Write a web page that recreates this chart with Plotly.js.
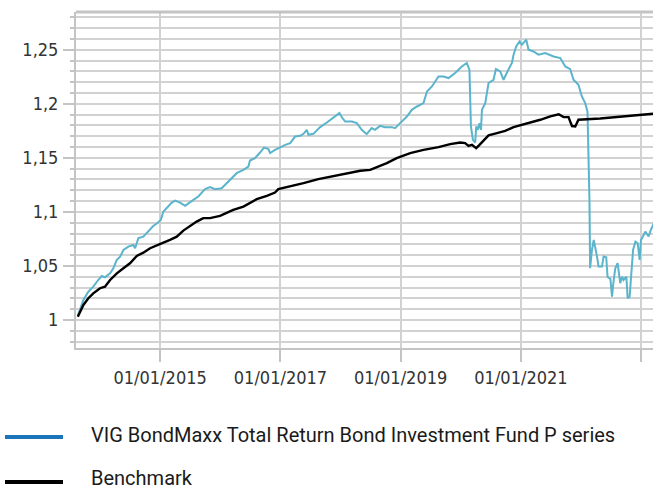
<!DOCTYPE html>
<html>
<head>
<meta charset="utf-8">
<script src="https://cdn.plot.ly/plotly-3.0.1.min.js"></script>
<style>
html,body{margin:0;padding:0;background:#fff;}
#chart{width:653px;height:489px;}
</style>
</head>
<body>
<div id="chart"></div>
<script>
// Fund (VIG BondMaxx Total Return Bond Investment Fund P series)
var fundDates = [
"2013-08-19","2013-09-22","2013-10-22","2013-11-21","2013-12-21","2014-01-11","2014-01-31","2014-03-03",
"2014-03-23","2014-04-13","2014-05-03","2014-05-23","2014-06-22","2014-07-22","2014-08-02","2014-08-22",
"2014-09-21","2014-10-21","2014-11-20","2014-12-14","2015-01-05","2015-01-21","2015-02-20","2015-03-13",
"2015-04-02","2015-05-02","2015-06-02","2015-06-22","2015-07-22","2015-08-21","2015-10-01","2015-10-31",
"2015-12-01","2016-01-10","2016-02-09","2016-03-11","2016-04-10","2016-05-21","2016-06-20","2016-06-30",
"2016-07-30","2016-08-30","2016-09-23","2016-10-20","2016-10-30","2016-11-29","2016-12-31","2017-01-30",
"2017-03-01","2017-03-11","2017-03-31","2017-05-01","2017-05-21","2017-06-10","2017-06-20","2017-07-20",
"2017-08-19","2017-08-30","2017-10-10","2017-10-30","2017-11-29","2017-12-25","2018-01-09","2018-01-29",
"2018-03-11","2018-04-10","2018-05-10","2018-06-09","2018-07-09","2018-07-29","2018-08-29","2018-09-28",
"2018-11-08","2018-11-28","2018-12-29","2019-02-08","2019-03-10","2019-04-10","2019-05-20","2019-06-10",
"2019-07-10","2019-08-19","2019-09-18","2019-10-19","2019-11-28","2020-01-08","2020-02-07","2020-02-23",
"2020-03-03","2020-03-15","2020-03-29","2020-04-04","2020-04-14","2020-04-24","2020-05-03","2020-05-09",
"2020-05-29","2020-06-18","2020-07-18","2020-08-02","2020-08-28","2020-09-17","2020-10-11","2020-11-07",
"2020-11-17","2020-12-03","2020-12-23","2021-01-07","2021-02-02","2021-02-16","2021-03-18","2021-04-17",
"2021-05-28","2021-07-18","2021-08-28","2021-09-27","2021-10-27","2021-11-16","2021-12-16","2022-01-06",
"2022-01-26","2022-02-09","2022-02-21","2022-02-25","2022-03-08","2022-03-19","2022-04-08","2022-04-17",
"2022-05-08","2022-05-18","2022-06-03","2022-06-11","2022-06-28","2022-07-08","2022-07-17","2022-07-28",
"2022-08-11","2022-08-27","2022-09-07","2022-09-16","2022-10-03","2022-10-11","2022-10-23","2022-11-02",
"2022-11-13","2022-11-27","2022-12-11","2022-12-23","2022-12-31","2023-01-12","2023-01-26","2023-02-15",
"2023-02-25","2023-03-20"
];
var fundValues = [
1.004,1.0185,1.0262,1.0308,1.0370,1.0407,1.0395,1.0432,
1.0479,1.0556,1.0586,1.0648,1.0679,1.0694,1.0664,1.0757,
1.0771,1.0818,1.0870,1.0895,1.0925,1.1003,1.1049,1.1086,
1.1105,1.1086,1.1056,1.1081,1.1111,1.1142,1.1210,1.1229,
1.1210,1.1219,1.1266,1.1312,1.1358,1.1389,1.1419,1.1475,
1.1497,1.1549,1.1595,1.1581,1.1544,1.1574,1.1599,1.1620,
1.1636,1.1660,1.1697,1.1704,1.1722,1.1759,1.1713,1.1722,
1.1775,1.1784,1.1827,1.1852,1.1889,1.1914,1.1875,1.1836,
1.1836,1.1821,1.1759,1.1719,1.1775,1.1759,1.1796,1.1784,
1.1784,1.1775,1.1821,1.1882,1.1944,1.1975,1.2006,1.2114,
1.2160,1.2253,1.2253,1.2238,1.2284,1.2345,1.2377,1.2315,
1.1790,1.1667,1.1642,1.1790,1.1759,1.1821,1.1759,1.1944,
1.2006,1.2192,1.2222,1.2321,1.2299,1.2222,1.2299,1.2377,
1.2454,1.2531,1.2577,1.2546,1.2593,1.2500,1.2484,1.2454,
1.2469,1.2438,1.2423,1.2345,1.2321,1.2222,1.2176,1.2068,
1.2006,1.1929,1.1111,1.0479,1.0648,1.0741,1.0586,1.0494,
1.0494,1.0588,1.0581,1.0398,1.0380,1.0216,1.0352,1.0479,
1.0525,1.0340,1.0401,1.0370,1.0401,1.0201,1.0216,1.0432,
1.0648,1.0725,1.0710,1.0556,1.0741,1.0772,1.0818,1.0772,
1.0818,1.0900
];

// Benchmark
var benchDates = [
"2013-08-19","2013-09-22","2013-10-22","2013-11-21","2014-01-01","2014-01-31","2014-03-03","2014-04-13",
"2014-05-23","2014-07-02","2014-08-12","2014-09-21","2014-11-01","2014-12-12","2015-01-21","2015-03-02",
"2015-04-12","2015-05-22","2015-07-01","2015-08-11","2015-09-20","2015-10-31","2015-12-31","2016-02-09",
"2016-03-20","2016-05-21","2016-06-30","2016-08-10","2016-10-10","2016-11-29","2016-12-19","2017-03-01",
"2017-05-21","2017-08-19","2017-12-30","2018-05-01","2018-06-30","2018-10-09","2018-12-08","2019-02-28",
"2019-05-20","2019-08-19","2019-10-29","2019-12-29","2020-01-28","2020-02-17","2020-03-09","2020-04-04",
"2020-04-24","2020-05-18","2020-06-18","2020-08-08","2020-09-27","2020-11-17","2021-01-07","2021-02-27",
"2021-04-28","2021-06-28","2021-08-18","2021-09-17","2021-10-17","2021-10-30","2021-11-07","2021-11-27",
"2021-12-16","2022-04-27","2022-09-27","2023-03-20"
];
var benchValues = [
1.003,1.0139,1.0201,1.0247,1.0294,1.0308,1.0370,1.0432,
1.0479,1.0525,1.0593,1.0623,1.0664,1.0694,1.0716,1.0741,
1.0771,1.0827,1.0870,1.0910,1.0942,1.0942,1.0963,1.0988,
1.1019,1.1049,1.1081,1.1118,1.1148,1.1179,1.1210,1.1234,
1.1266,1.1303,1.1343,1.1380,1.1389,1.1451,1.1497,1.1544,
1.1574,1.1599,1.1627,1.1642,1.1636,1.1611,1.1620,1.1590,
1.1620,1.1660,1.1708,1.1729,1.1750,1.1784,1.1806,1.1821,
1.1852,1.1884,1.1903,1.1877,1.1877,1.1824,1.1794,1.1790,
1.1852,1.1864,1.1884,1.1908
];

var tickDates = ["2015-01-01","2017-01-01","2019-01-01","2021-01-01","2023-01-01"];
var tickLabels = ["01/01/2015","01/01/2017","01/01/2019","01/01/2021",""];
var seriesNames = ["VIG BondMaxx Total Return Bond Investment Fund P series","Benchmark"];

var gridC = "#d2d2d2", axisC = "#c4c4c4";
var tickFont = {family: "DejaVu Sans Condensed, DejaVu Sans, sans-serif", size: 18, color: "#333333"};
var legFont = {family: "Liberation Sans Narrow, Roboto, sans-serif", size: 20, color: "#1a1a1a"};

var traces = [
  {x: fundDates, y: fundValues, type: "scatter", mode: "lines", line: {color: "#5ab4cc", width: 2}, showlegend: false, hoverinfo: "skip"},
  {x: benchDates, y: benchValues, type: "scatter", mode: "lines", line: {color: "#000000", width: 2.4}, showlegend: false, hoverinfo: "skip"}
];

var plotL = 76, plotW = 577, plotB = 348, plotH = 336;
function px2x(p){ return (p - plotL) / plotW; }
function py2y(p){ return (plotB - p) / plotH; }

var layout = {
  width: 653, height: 489,
  margin: {l: plotL, r: 0, t: 12, b: 489 - plotB},
  paper_bgcolor: "#ffffff", plot_bgcolor: "#ffffff",
  separators: ", ",
  showlegend: false,
  xaxis: {
    type: "date",
    range: ["2013-08-08", "2023-03-14"],
    tickvals: tickDates, ticktext: tickLabels,
    showgrid: true, gridcolor: gridC, gridwidth: 2,
    showline: true, linecolor: axisC, linewidth: 2,
    ticks: "outside", ticklen: 12, tickwidth: 2, tickcolor: axisC,
    tickfont: tickFont, ticklabelstandoff: 0,
    zeroline: false, fixedrange: true
  },
  yaxis: {
    range: [0.9741, 1.2849],
    dtick: 0.05, tick0: 1,
    showgrid: true, gridcolor: gridC, gridwidth: 2,
    showline: true, linecolor: axisC, linewidth: 2,
    ticks: "outside", ticklen: 11, tickwidth: 2, tickcolor: axisC,
    tickfont: tickFont, ticklabelstandoff: 1,
    minor: {dtick: 0.01, tick0: 1, ticks: "outside", ticklen: 4, tickwidth: 2, tickcolor: axisC, showgrid: true, gridcolor: gridC, gridwidth: 2},
    zeroline: false, fixedrange: true
  },
  shapes: [
    {type: "line", xref: "paper", yref: "paper", x0: 0, x1: 1, y0: 1, y1: 1, line: {color: axisC, width: 3}},
    {type: "line", xref: "paper", yref: "paper", x0: px2x(5), x1: px2x(63), y0: py2y(437), y1: py2y(437), line: {color: "#1b75bb", width: 4}},
    {type: "line", xref: "paper", yref: "paper", x0: px2x(5), x1: px2x(63), y0: py2y(482), y1: py2y(482), line: {color: "#000000", width: 4}}
  ],
  annotations: [
    {xref: "paper", yref: "paper", x: px2x(89), y: py2y(435), xanchor: "left", yanchor: "middle", text: seriesNames[0], showarrow: false, font: legFont},
    {xref: "paper", yref: "paper", x: px2x(89), y: py2y(478), xanchor: "left", yanchor: "middle", text: seriesNames[1], showarrow: false, font: legFont}
  ]
};

Plotly.newPlot("chart", traces, layout, {staticPlot: true, displayModeBar: false});
</script>
</body>
</html>
